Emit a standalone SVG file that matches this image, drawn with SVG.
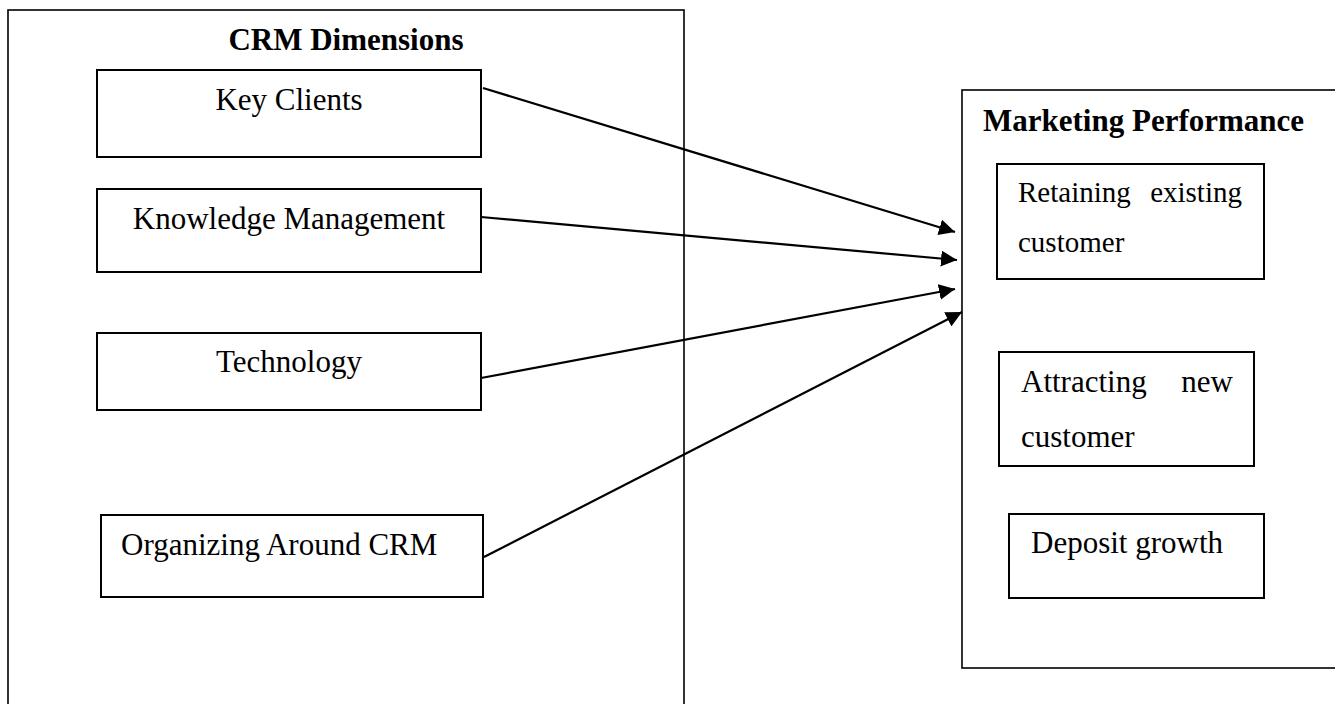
<svg xmlns="http://www.w3.org/2000/svg" width="1335" height="704" viewBox="0 0 1335 704">
<style>
.box{fill:#fff;stroke:#000;stroke-width:2}
.frame{fill:none;stroke:#000;stroke-width:1.6}
.t{font-family:"Liberation Serif","Times New Roman",serif;font-size:31px;fill:#000}
.b{font-weight:bold}
.c{stroke:#000;stroke-width:2.2;fill:none;marker-end:url(#ah)}
</style>
<defs>
<marker id="ah" markerUnits="userSpaceOnUse" markerWidth="17" markerHeight="16" refX="16" refY="8" orient="auto">
<path d="M0,0 L16,8 L0,16 z" fill="#000"/>
</marker>
</defs>
<rect width="1335" height="704" fill="#fff"/>
<g id="crm-dimensions">
<rect class="frame" x="8" y="10" width="676" height="700"/>
<text class="t b" x="346" y="50" text-anchor="middle">CRM Dimensions</text>
</g>
<g id="marketing-performance">
<rect class="frame" x="962" y="90" width="380" height="578"/>
<text class="t b" x="983" y="131">Marketing Performance</text>
</g>
<g id="key-clients">
<rect class="box" x="97" y="70" width="384" height="87"/>
<text class="t" x="289" y="110" text-anchor="middle">Key Clients</text>
</g>
<g id="knowledge-management">
<rect class="box" x="97" y="189" width="384" height="83"/>
<text class="t" x="289" y="229" text-anchor="middle">Knowledge Management</text>
</g>
<g id="technology">
<rect class="box" x="97" y="333" width="384" height="77"/>
<text class="t" x="289" y="372" text-anchor="middle">Technology</text>
</g>
<g id="organizing-around-crm">
<rect class="box" x="101" y="515" width="382" height="82"/>
<text class="t" x="121" y="555">Organizing Around CRM</text>
</g>
<g id="retaining-existing-customer">
<rect class="box" x="997" y="164" width="267" height="115"/>
<text class="t" x="1018" y="202" style="font-size:29px">Retaining</text>
<text class="t" x="1242" y="202" style="font-size:29px" text-anchor="end">existing</text>
<text class="t" x="1018" y="252" style="font-size:29px">customer</text>
</g>
<g id="attracting-new-customer">
<rect class="box" x="999" y="352" width="255" height="114"/>
<text class="t" x="1021" y="392">Attracting</text>
<text class="t" x="1233" y="392" text-anchor="end">new</text>
<text class="t" x="1021" y="447">customer</text>
</g>
<g id="deposit-growth">
<rect class="box" x="1009" y="514" width="255" height="84"/>
<text class="t" x="1031" y="553">Deposit growth</text>
</g>
<g id="connectors">
<line class="c" x1="483" y1="88" x2="955" y2="232"/>
<line class="c" x1="481" y1="217" x2="957" y2="260"/>
<line class="c" x1="481" y1="378" x2="955" y2="289"/>
<line class="c" x1="484" y1="557" x2="962" y2="312"/>
</g>
</svg>
